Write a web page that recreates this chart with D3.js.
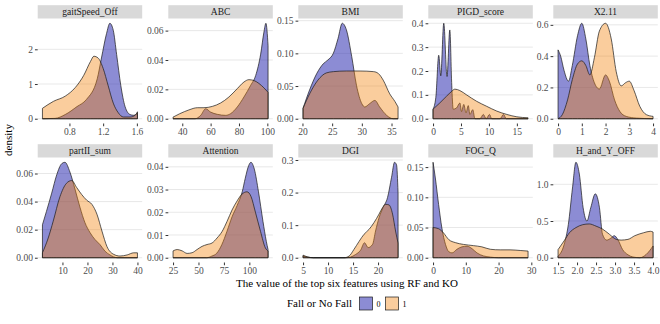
<!DOCTYPE html>
<html>
<head>
<meta charset="utf-8">
<script src="https://cdn.jsdelivr.net/npm/d3@7"></script>
<style>
  body { margin: 0; background: #fff; }
  text { font-family: "Liberation Serif", "Times New Roman", serif; }
</style>
</head>
<body>
<svg id="chart" width="660" height="324"></svg>
<script>
// facet names, in reading order
const features = ["gaitSpeed_Off", "ABC", "BMI", "PIGD_score", "X2.11",
                  "partII_sum", "Attention", "DGI", "FOG_Q", "H_and_Y_OFF"];

// density curves, [value, density], group 0 (no fall)
const gait0 = [[0.48,0],[0.63,0.01],[0.75,0.12],[0.89,0.35],[1.0,0.55],[1.13,1.15],[1.18,1.75],[1.24,2.45],[1.28,2.75],[1.32,2.55],[1.36,1.85],[1.41,0.95],[1.46,0.35],[1.52,0.12],[1.56,0.1],[1.607,0.16]];
const abc0 = [[33.5,0],[49,0],[53,0.0023],[56.5,0.0068],[60,0.0045],[64.7,0.003],[70.6,0.0023],[74,0.0034],[78.8,0.008],[83.5,0.0148],[88.2,0.0227],[91.8,0.0295],[95.3,0.044],[97.6,0.059],[99,0.065],[100.5,0.05]];
const bmi0 = [[20.1,0.016],[21.2,0.044],[22.4,0.069],[23.5,0.084],[24.3,0.09],[25.2,0.1],[26,0.123],[26.7,0.146],[27.4,0.136],[28.3,0.095],[29.1,0.051],[30,0.023],[30.5,0.018],[31.3,0.023],[32.2,0.028],[33,0.018],[34.2,0.005],[35.3,0],[36.1,0]];
const pigd0 = [[0,0.04],[0.5,0.09],[1.02,0.266],[1.38,0.18],[1.92,0.4],[2.5,0.177],[3.0,0.372],[3.35,0.14],[3.6,0.04],[4.2,0.045],[4.8,0.066],[5.1,0.03],[5.5,0.06],[5.9,0.025],[6.3,0.055],[6.6,0.018],[7.1,0.038],[7.5,0],[8.4,0],[9,0.018],[9.5,0],[10.1,0.018],[10.5,0],[12,0],[12.6,0.018],[13.1,0],[17,0]];
const x211_0 = [[0,0.44],[0.11,0.4],[0.25,0.31],[0.44,0.24],[0.6,0.34],[0.82,0.53],[1.0,0.61],[1.17,0.51],[1.34,0.34],[1.53,0.23],[1.74,0.19],[2.0,0.28],[2.16,0.24],[2.38,0.12],[2.6,0.047],[2.87,0.015],[3.3,0.004],[4,0]];
const part0 = [[2,0.0235],[3.6,0.033],[5.7,0.046],[7.7,0.059],[9.7,0.067],[11,0.068],[13,0.061],[15,0.049],[17,0.036],[19,0.025],[21,0.018],[23,0.013],[25,0.0094],[27,0.0047],[29,0.002],[32,0],[40,0]];
const att0 = [[25,0],[58,0],[63,0.0007],[68,0.002],[73,0.0058],[78,0.0116],[83,0.018],[88,0.023],[93,0.029],[96,0.035],[99.4,0.0406],[101.6,0.042],[104.9,0.039],[109,0.029],[113.4,0.016],[116.7,0.0072],[118.4,0.0036]];
const dgi0 = [[5,0.005],[5.8,0.002],[7.1,0],[13.5,0],[14.5,0.002],[15.5,0.01],[16.5,0.023],[17.3,0.046],[18,0.031],[18.9,0.041],[19.5,0.082],[20.2,0.123],[21,0.154],[21.9,0.185],[22.7,0.247],[23.3,0.293],[23.7,0.285],[24,0.2]];
const fog0 = [[0,0.158],[0.7,0.132],[1.7,0.088],[2.7,0.049],[3.8,0.022],[4.8,0.01],[5.8,0.008],[7.3,0.014],[8.8,0.018],[10.4,0.019],[11.9,0.015],[13.4,0.008],[15.4,0.003],[17.5,0.001],[20,0],[29,0]];
const hy0 = [[1.5,0.02],[1.66,0.18],[1.77,0.45],[1.88,0.95],[1.97,1.3],[2.06,1.14],[2.16,0.68],[2.26,0.5],[2.36,0.68],[2.48,0.87],[2.59,0.68],[2.67,0.32],[2.78,0.24],[2.9,0.27],[2.98,0.3],[3.07,0.25],[3.2,0.11],[3.34,0.04],[3.47,0.01],[3.65,0],[3.82,0.045],[4.0,0.16]];

// group 1 (fall)
const gait1 = [[0.48,0.3],[0.61,0.5],[0.75,0.65],[0.87,0.9],[0.97,1.25],[1.05,1.65],[1.09,1.8],[1.14,1.75],[1.2,1.45],[1.26,0.95],[1.32,0.45],[1.38,0.17],[1.44,0.05],[1.52,0.05],[1.58,0.1],[1.607,0.2]];
const abc1 = [[33.5,0.0011],[38.2,0.0034],[44.7,0.006],[50.6,0.0075],[55.3,0.0075],[61.2,0.0084],[67,0.0107],[72.9,0.0148],[78.8,0.0205],[83.5,0.025],[87,0.0266],[90.6,0.026],[94.1,0.024],[97.6,0.021],[100.5,0.018]];
const bmi1 = [[20.1,0.016],[21.2,0.038],[22.6,0.059],[24,0.07],[25.2,0.072],[27.4,0.073],[29.7,0.073],[32,0.072],[32.8,0.069],[33.6,0.059],[34.7,0.038],[35.6,0.026],[36.1,0.018]];
const pigd1 = [[0,0.04],[1.2,0.066],[2.4,0.094],[3.3,0.114],[3.9,0.124],[4.8,0.118],[6,0.1],[7.8,0.073],[9.6,0.052],[11.4,0.032],[13.2,0.018],[15,0.008],[17,0.004]];
const x211_1 = [[0,0],[0.18,0.026],[0.4,0.12],[0.6,0.25],[0.82,0.35],[1.0,0.37],[1.17,0.34],[1.34,0.28],[1.53,0.39],[1.74,0.56],[2.0,0.61],[2.24,0.51],[2.45,0.3],[2.66,0.21],[2.84,0.23],[3.0,0.24],[3.2,0.18],[3.44,0.08],[3.72,0.026],[4,0.015]];
const part1 = [[2,0.0035],[4.3,0.014],[6.3,0.026],[9,0.0435],[11.6,0.053],[13.7,0.055],[15.7,0.05],[17.7,0.045],[19.7,0.041],[21.8,0.038],[23.8,0.031],[25.8,0.019],[27.8,0.008],[30.5,0.0024],[33,0.0012],[35.9,0.002],[38.5,0.0035],[40,0.0035]];
const att1 = [[25,0.003],[29,0.0036],[34,0.003],[38.8,0.0019],[43.7,0.0022],[48.6,0.0036],[53.5,0.005],[58.4,0.0058],[63.4,0.0065],[68.3,0.0087],[73.3,0.0116],[78.1,0.016],[83,0.021],[88,0.025],[92.8,0.028],[97.7,0.029],[101.6,0.027],[106,0.02],[111,0.0116],[115.8,0.0043],[118.4,0.003]];
const dgi1 = [[5,0.008],[5.8,0.003],[7.1,0],[13.2,0],[14.2,0.005],[15.2,0.026],[16.2,0.05],[17.2,0.072],[18.2,0.087],[19.2,0.108],[20.2,0.134],[20.9,0.154],[21.5,0.164],[22.2,0.162],[22.9,0.134],[23.5,0.082],[24,0.045]];
const fog1 = [[0,0.05],[1.7,0.048],[3.2,0.041],[4.8,0.03],[6.8,0.025],[9.3,0.022],[12.4,0.02],[14.9,0.018],[17.5,0.014],[20.5,0.013],[23.5,0.013],[26.6,0.012],[29,0.011]];
const hy1 = [[1.5,0.11],[1.66,0.23],[1.8,0.34],[1.97,0.41],[2.15,0.45],[2.32,0.46],[2.5,0.43],[2.67,0.39],[2.85,0.32],[3.03,0.25],[3.16,0.24],[3.34,0.25],[3.52,0.3],[3.75,0.34],[3.93,0.36],[4.0,0.35]];

const curves0 = [gait0, abc0, bmi0, pigd0, x211_0, part0, att0, dgi0, fog0, hy0];
const curves1 = [gait1, abc1, bmi1, pigd1, x211_1, part1, att1, dgi1, fog1, hy1];

// tick values per facet
const xTicks = [[0.8,1.2,1.6],[40,60,80,100],[20,25,30,35],[0,5,10,15],[0,1,2,3,4],
                [10,20,30,40],[25,50,75,100],[5,10,15,20],[0,10,20,30],[1.5,2,2.5,3,3.5,4]];
const xDigits = [1,0,0,0,0,0,0,0,0,1];
const yTicks = [[0,1,2],[0,0.02,0.04,0.06],[0,0.05,0.1,0.15],[0,0.1,0.2,0.3,0.4],[0,0.2,0.4,0.6],
                [0,0.02,0.04,0.06],[0,0.01,0.02,0.03,0.04],[0,0.1,0.2,0.3],[0,0.05,0.1,0.15],[0,0.5,1]];
const yDigits = [0,2,2,1,1,2,2,1,2,1];

const groups = ["0", "1"];
const fills = ["#1919aa", "#f3820a"];
const alphas = [0.5, 0.4];

const svg = d3.select("#chart");

const colX = [37.7, 168.3, 298.3, 428.3, 553.3];
const rowY = [18.5, 157.5];
const pw = 104.5, ph = 105, stripH = 13.3;

features.forEach((name, i) => {
  const col = i % 5, row = Math.floor(i / 5);
  const g = svg.append("g").attr("transform", `translate(${colX[col]},${rowY[row]})`);

  const all = curves0[i].concat(curves1[i]);
  const ext = d3.extent(all, d => d[0]);
  const pad = (ext[1] - ext[0]) * 0.05;
  const x = d3.scaleLinear().domain([ext[0] - pad, ext[1] + pad]).range([0, pw]);
  const m = d3.max(all, d => d[1]);
  const y = d3.scaleLinear().domain([-0.05 * m, 1.05 * m]).range([ph, 0]);

  // strip
  g.append("rect")
    .attr("x", 0).attr("y", -stripH)
    .attr("width", pw).attr("height", stripH)
    .attr("fill", "#d9d9d9");
  g.append("text")
    .attr("x", pw / 2).attr("y", -stripH / 2)
    .attr("text-anchor", "middle")
    .attr("dominant-baseline", "central")
    .attr("font-size", 9.5)
    .attr("fill", "#1a1a1a")
    .text(name);

  // grid
  g.selectAll(".grid").data(yTicks[i]).enter().append("line")
    .attr("x1", 0).attr("x2", pw)
    .attr("y1", d => y(d)).attr("y2", d => y(d))
    .attr("stroke", "#d9d9d9").attr("stroke-width", 0.6);

  const area = d3.area()
    .x(d => x(d[0]))
    .y0(y(0))
    .y1(d => y(d[1]))
    .curve(d3.curveMonotoneX);

  [curves0[i], curves1[i]].forEach((c, k) => {
    g.append("path")
      .attr("d", area(c))
      .attr("fill", fills[k])
      .attr("fill-opacity", alphas[k])
      .attr("stroke", "#1a1a1a")
      .attr("stroke-width", 0.7);
  });

  const xa = g.append("g").attr("transform", `translate(0,${ph})`)
    .call(d3.axisBottom(x).tickValues(xTicks[i]).tickSize(2.75).tickPadding(2)
      .tickFormat(d3.format(`.${xDigits[i]}f`)));
  const ya = g.append("g")
    .call(d3.axisLeft(y).tickValues(yTicks[i]).tickSize(2.75).tickPadding(2)
      .tickFormat(d3.format(`.${yDigits[i]}f`)));
  [xa, ya].forEach(a => {
    a.select(".domain").remove();
    a.selectAll("line").attr("stroke", "#333");
    a.selectAll("text").attr("fill", "#4d4d4d").attr("font-size", 9.5)
      .style("font-family", '"Liberation Serif", serif');
  });
});

// axis titles
svg.append("text")
  .attr("transform", "translate(12,140) rotate(-90)")
  .attr("text-anchor", "middle")
  .attr("font-size", 11)
  .text("density");

svg.append("text")
  .attr("x", 347).attr("y", 287)
  .attr("text-anchor", "middle")
  .attr("font-size", 11)
  .text("The value of the top six features using RF and KO");

// legend
const leg = svg.append("g").attr("transform", "translate(287,297)");
leg.append("text")
  .attr("x", 0).attr("y", 10)
  .attr("font-size", 11)
  .text("Fall or No Fall");
groups.forEach((gname, k) => {
  const lx = 72.5 + k * 26;
  leg.append("rect")
    .attr("x", lx).attr("y", 0)
    .attr("width", 13).attr("height", 13)
    .attr("fill", fills[k]).attr("fill-opacity", alphas[k])
    .attr("stroke", "#1a1a1a").attr("stroke-width", 0.7);
  leg.append("text")
    .attr("x", lx + 17).attr("y", 10)
    .attr("font-size", 8)
    .text(gname);
});
</script>
</body>
</html>
